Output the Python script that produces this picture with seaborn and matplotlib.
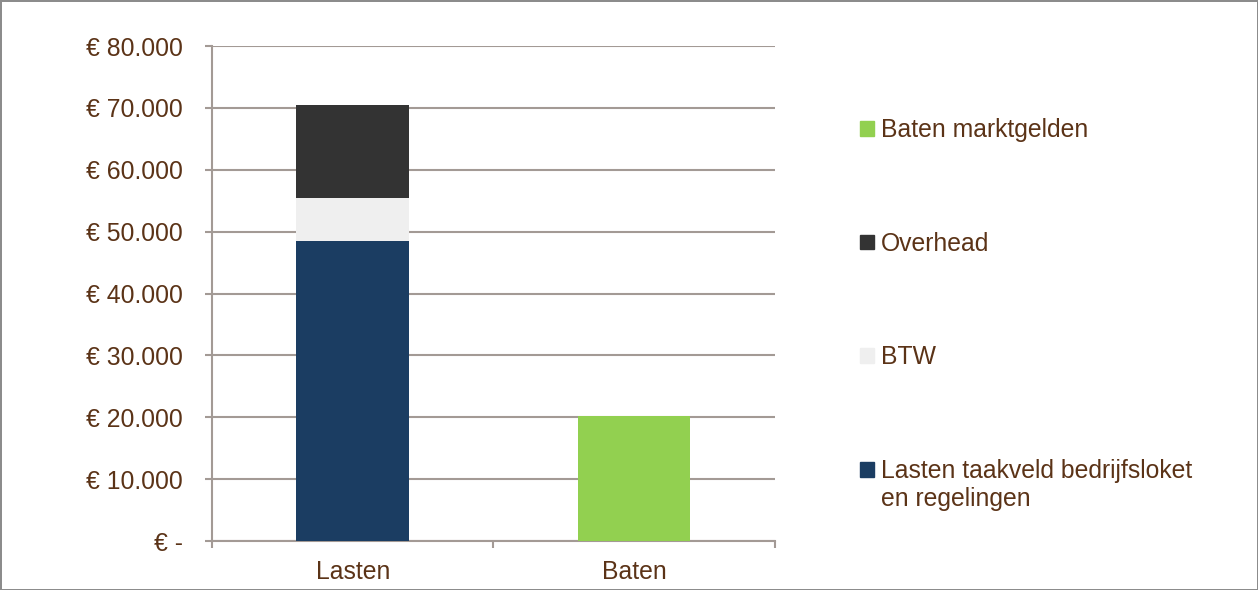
import pandas as pd
import matplotlib
matplotlib.use("Agg")
import matplotlib.pyplot as plt
import matplotlib.ticker as mticker
from matplotlib.patches import Patch
import seaborn as sns

# data
categories = ["Lasten", "Baten"]
lasten_taakveld = 48500
btw = 6900
overhead = 15000
baten_markt = 20200

legend_labels = ["Baten marktgelden", "Overhead", "BTW",
                 "Lasten taakveld bedrijfsloket"]
legend_extra_line = "en regelingen"

c_blue = "#1b3d62"
c_btw = "#efefef"
c_over = "#333333"
c_green = "#92d050"
txt = "#5b3317"
grid_c = "#a39a95"
fs = 17.8

sns.set_theme(style="white")
plt.rcParams["font.family"] = ["Liberation Sans", "DejaVu Sans"]

# cumulative totals so the bars can be layered front to back
df_top = pd.DataFrame({"cat": ["Lasten"], "val": [lasten_taakveld + btw + overhead]})
df_mid = pd.DataFrame({"cat": ["Lasten"], "val": [lasten_taakveld + btw]})
df_bot = pd.DataFrame({"cat": ["Lasten"], "val": [lasten_taakveld]})
df_bat = pd.DataFrame({"cat": ["Baten"], "val": [baten_markt]})

fig = plt.figure(figsize=(12.58, 5.9), dpi=100)
ax = fig.add_axes([0.1685, 0.083, 0.4475, 0.839])

for d, c in [(df_top, c_over), (df_mid, c_btw), (df_bot, c_blue), (df_bat, c_green)]:
    sns.barplot(data=d, x="cat", y="val", order=categories, color=c,
                width=0.4, saturation=1, edgecolor="none", ax=ax, zorder=3)

ax.set_ylim(0, 80000)
ax.set_xlim(-0.5, 1.5)
ax.set_yticks(range(0, 80001, 10000))
ax.yaxis.set_major_formatter(mticker.FuncFormatter(
    lambda v, p: "€ -" if v == 0 else "€ " + f"{int(v):,}".replace(",", ".")))
ax.set_xlabel("")
ax.set_ylabel("")

ax.grid(axis="y", color=grid_c, linewidth=1.5, zorder=0)
ax.set_axisbelow(True)
for s in ["top", "right"]:
    ax.spines[s].set_visible(False)
for s in ["left", "bottom"]:
    ax.spines[s].set_color(grid_c)
    ax.spines[s].set_linewidth(1.5)

ax.tick_params(axis="y", direction="out", length=5, width=1.5, color=grid_c,
               left=True, pad=16, labelsize=fs, labelcolor=txt)
ax.tick_params(axis="x", which="major", length=0, pad=14, labelsize=fs, labelcolor=txt)
ax.set_xticks([-0.5, 0.5, 1.5], minor=True)
ax.tick_params(axis="x", which="minor", direction="out", length=5, width=1.5,
               color=grid_c, bottom=True)

handles = [Patch(color=c_green), Patch(color=c_over), Patch(color=c_btw), Patch(color=c_blue)]
leg = fig.legend(handles, legend_labels, loc="upper left", bbox_to_anchor=(0.6836, 0.80),
                 frameon=False, fontsize=fs, labelspacing=3.63, handlelength=0.55,
                 handleheight=0.55, handletextpad=0.3, borderaxespad=0, borderpad=0)
for t in leg.get_texts():
    t.set_color(txt)

# second line of the last legend entry, hanging under the first line
fig.canvas.draw()
bb = leg.get_texts()[-1].get_window_extent()
fig.text(bb.x0 / fig.bbox.width, (bb.y0 - 28) / fig.bbox.height, legend_extra_line,
         fontsize=fs, color=txt, ha="left", va="bottom")

fig.patch.set_edgecolor("#8c8c8c")
fig.patch.set_linewidth(2)

fig.savefig("out.png", dpi=100, edgecolor=fig.get_edgecolor())
